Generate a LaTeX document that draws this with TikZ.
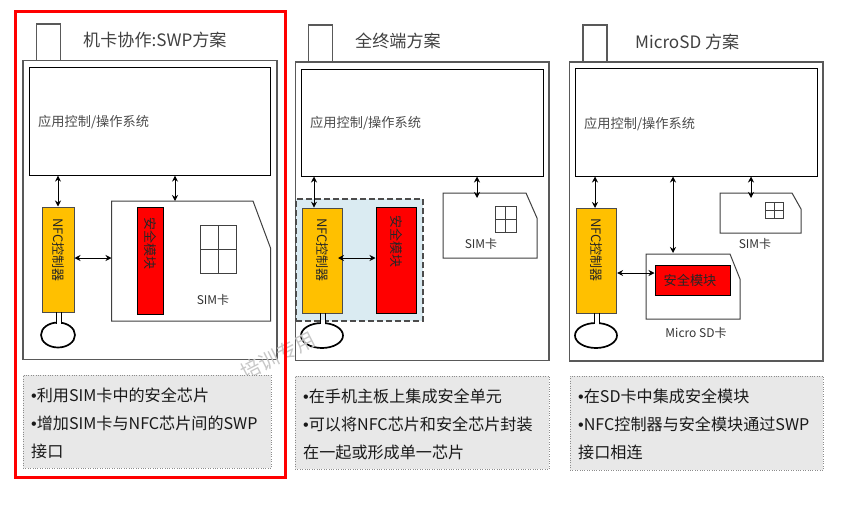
\documentclass[tikz,border=0pt]{standalone}
\usepackage{fontspec}
\setmainfont{Noto Sans CJK SC}
\newfontfamily\bulletfont{Liberation Sans}
\newcommand{\bul}{{\bulletfont •}}
\usetikzlibrary{arrows.meta,shapes.geometric}

\begin{document}
\begin{tikzpicture}[
  x=1pt, y=-1pt,
  every node/.style={inner sep=0pt},
  phone/.style={draw=black!65, line width=1.1pt},
  appbox/.style={draw=black, line width=1pt, fill=white},
  apptext/.style={anchor=west, text=black!70, font=\fontsize{13.2}{15}\selectfont},
  nfcblock/.style={draw=black!70, line width=1pt, fill=nfcyellow, minimum width=#1, minimum height=105pt},
  secblock/.style={draw=black, line width=1pt, fill=red},
  vtext/.style={rotate=-90, text=black!85, font=\fontsize{13}{15}\selectfont},
  card/.style={draw=black!75, line width=1pt, fill=white},
  cardtext/.style={text=black!80, font=\fontsize{12}{14}\selectfont},
  grid/.style={draw=black!75, line width=1pt},
  ant/.style={ellipse, draw=black, line width=1.7pt, fill=white, minimum width=34pt, minimum height=25pt},
  stem/.style={draw=black, line width=1pt},
  title/.style={anchor=west, text=black!75, font=\fontsize{17.1}{20}\selectfont},
  note/.style={draw=black!45, dotted, fill=notegray},
  notetext/.style={anchor=west, align=left, text=black!90, font=\fontsize{16.1}{28}\selectfont},
  flow/.style={{Stealth[length=6pt,width=6pt]}-{Stealth[length=6pt,width=6pt]}, line width=0.9pt}
]
\definecolor{nfcyellow}{HTML}{FFC000}
\definecolor{notegray}{HTML}{E8E8E8}
\definecolor{sealblue}{HTML}{DAEBF2}
\useasboundingbox (0,0) rectangle (846,506);
% Panel 1: SWP
\draw[phone] (36.5,24) rectangle (60.5,60.5);
\draw[phone, fill=white] (23,60.5) rectangle (277,359.5);
\node[title] (title1) at (83,40) {机卡协作:SWP方案};
\node[appbox, minimum width=241pt, minimum height=107.5pt] (app1) at (150,121.3) {};
\node[apptext] (apptext1) at (38,122) {应用控制/操作系统};
\node[nfcblock=32pt] (nfc1) at (58,259.5) {};
\node[vtext] (nfctext1) at (58,250) {NFC控制器};
\node[ant] (ant1) at (58,335) {};
\fill[white] (56,321) rectangle (61,325);
\draw[stem] (56,312) -- (56,323.5) (61,312) -- (61,323.5);
\draw[card] (111.5,321) -- (111.5,201) -- (253,201) -- (270.5,248) -- (270.5,321) -- cycle;
\coordinate (sim1) at (175,201);
\coordinate (simleft1) at (111.5,258);
\node[secblock, minimum width=26pt, minimum height=107pt] (sec1) at (150,260.5) {};
\node[vtext] (sectext1) at (150,243) {安全模块};
\draw[grid] (200,225) rectangle (236,273) (218,225) -- (218,273) (200,249) -- (236,249);
\node[cardtext] (simtext1) at (213,300) {SIM卡};
\draw[flow] (app1.south -| nfc1) -- (nfc1);
\draw[flow] (app1.south -| sim1) -- (sim1);
\draw[flow] (nfc1.east |- simleft1) -- (simleft1);
% Panel 2: on the terminal
\draw[phone] (308.5,25) rectangle (332.5,62);
\draw[phone, fill=white] (295.5,62) rectangle (549,360.5);
\node[title] (title2) at (355,41) {全终端方案};
\node[appbox, minimum width=241.5pt, minimum height=107pt] (app2) at (422.3,122.5) {};
\node[apptext] (apptext2) at (310,123) {应用控制/操作系统};
\node[draw=black!70, dash pattern=on 6pt off 3pt, line width=1.2pt, fill=sealblue, minimum width=127pt, minimum height=122pt] (seal2) at (359.5,260) {};
\node[nfcblock=40.5pt] (nfc2) at (322.3,260.7) {};
\node[vtext] (nfctext2) at (322.3,250) {NFC控制器};
\node[secblock, minimum width=40pt, minimum height=106pt] (sec2) at (396,260) {};
\node[vtext] (sectext2) at (396,241.5) {安全模块};
\node[ant, minimum width=42pt] (ant2) at (322,335.5) {};
\fill[sealblue] (320,314) rectangle (325,320);
\fill[white] (320,320) rectangle (325,325);
\draw[stem] (320,313) -- (320,324) (325,313) -- (325,324);
\draw[card] (443,258) -- (443,193) -- (526,193) -- (537,218) -- (537,258) -- cycle;
\coordinate (sim2) at (477,198);
\draw[grid] (495,206) rectangle (516,232) (505.5,206) -- (505.5,232) (495,219) -- (516,219);
\node[cardtext] (simtext2) at (481,244) {SIM卡};
\draw[flow] (app2.south -| 314,0) -- (nfc2.north -| 314,0);
\draw[flow] (app2.south -| sim2) -- (sim2);
\draw[flow] (338,258) -- (sec2.west |- 0,258);
% Panel 3: MicroSD
\draw[phone] (583,25) rectangle (607,62);
\draw[phone, fill=white] (569.5,62) rectangle (823,361);
\node[title] (title3) at (635,42) {MicroSD 方案};
\node[appbox, minimum width=241.5pt, minimum height=108pt] (app3) at (696.3,122) {};
\node[apptext] (apptext3) at (584,124) {应用控制/操作系统};
\node[nfcblock=40.5pt] (nfc3) at (596.3,261) {};
\node[vtext] (nfctext3) at (596.3,250) {NFC控制器};
\node[ant, minimum width=42pt] (ant3) at (596,335.5) {};
\fill[white] (594,321) rectangle (599,325);
\draw[stem] (594,313) -- (594,324) (599,313) -- (599,324);
\draw[card] (646,319) -- (646,254) -- (730,254) -- (740,279) -- (740,319) -- cycle;
\coordinate (sd3) at (673,253);
\node[secblock, minimum width=75pt, minimum height=30pt] (sec3) at (692.5,280) {};
\node[text=black!85, font=\fontsize{13.2}{15}\selectfont] (sectext3) at (690,280) {安全模块};
\node[cardtext] (sdtext3) at (696,333) {Micro SD卡};
\draw[card] (720,233) -- (720,193) -- (792,193) -- (801,209) -- (801,233) -- cycle;
\coordinate (sim3) at (751,198);
\draw[grid] (765,202) rectangle (783,218) (774,202) -- (774,218) (765,210) -- (783,210);
\node[cardtext] (simtext3) at (755,244) {SIM卡};
\draw[flow] (app3.south -| 595,0) -- (nfc3.north -| 595,0);
\draw[flow] (app3.south -| sd3) -- (sd3);
\draw[flow] (app3.south -| sim3) -- (sim3);
\draw[flow] (nfc3.east |- 0,273) -- (sec3.west |- 0,273);
% Watermark
\node[rotate=27, text=black!22, font=\fontsize{20}{22}\selectfont] (mark) at (278,356) {培训专用};
% Notes
\node[note, minimum width=248pt, minimum height=93pt] (note1) at (147,421.5) {};
\node[notetext] (notetext1) at (31,423) {\bul 利用SIM卡中的安全芯片\\\bul 增加SIM卡与NFC芯片间的SWP\\接口};
\node[note, minimum width=254pt, minimum height=93pt] (note2) at (422,422.5) {};
\node[notetext] (notetext2) at (303,424) {\bul 在手机主板上集成安全单元\\\bul 可以将NFC芯片和安全芯片封装\\在一起或形成单一芯片};
\node[note, minimum width=253pt, minimum height=94pt] (note3) at (696.5,423) {};
\node[notetext] (notetext3) at (578,424) {\bul 在SD卡中集成安全模块\\\bul NFC控制器与安全模块通过SWP\\接口相连};
% Frame
\draw[red, line width=3.4pt] (15.5,11.5) rectangle (285.5,477.5);
\end{tikzpicture}
\end{document}
